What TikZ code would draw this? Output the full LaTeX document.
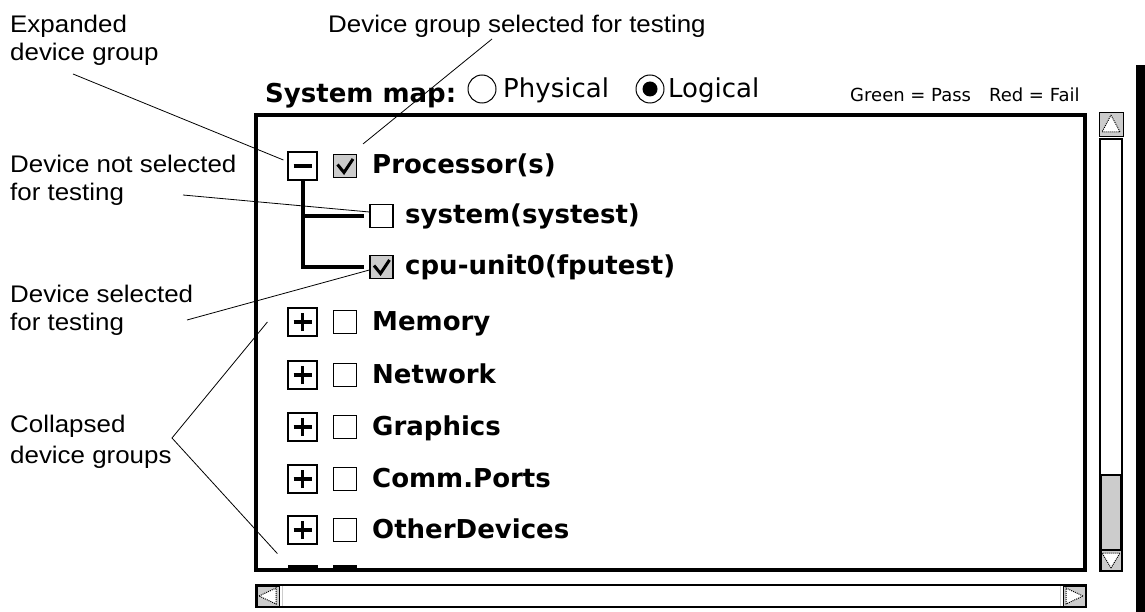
\documentclass[tikz,border=0pt]{standalone}
\usepackage{fontspec}
\usepackage{tikz}
\newfontfamily\notefont[FakeStretch=1.08]{Liberation Sans}
\newfontfamily\panelfont{DejaVu Sans}

\definecolor{panelgray}{gray}{0.8}

\tikzset{
  note/.style={font=\notefont\fontsize{24}{28}\selectfont, align=left, inner sep=0pt, anchor=north west},
  entry/.style={font=\panelfont\bfseries\fontsize{26}{30}\selectfont, inner sep=0pt, anchor=base west},
  plain/.style={font=\panelfont\fontsize{26}{30}\selectfont, inner sep=0pt, anchor=base west},
  expander/.style={draw, line width=1.2pt, minimum width=29pt, minimum height=28pt, inner sep=0pt},
  tickbox/.style={draw, line width=1.2pt, minimum size=23pt, inner sep=0pt},
  ticked/.style={tickbox, fill=panelgray},
  radio/.style={circle, draw, line width=1pt, minimum size=28pt, inner sep=0pt},
  leader/.style={line width=0.8pt},
  treeline/.style={line width=4pt},
  sign/.style={line width=3.5pt},
  checkmark/.style={line width=3pt},
  frame/.style={line width=3.2pt},
  arrowbox/.style={fill=panelgray, draw, line width=0.8pt},
  arrowtip/.style={fill=white, draw, densely dotted, line width=1pt}
}

\begin{document}
\begin{tikzpicture}[x=1pt, y=-1pt]
\useasboundingbox (0,0) rectangle (1145,612);
\fill[white] (0,0) rectangle (1145,612);

\fill[black] (1136,65) rectangle (1145,612);

\node[entry] (title) at (265,103) {System map:};
\node[radio] (radphys) at (482,89) {};
\node[plain] (phys) at (503,98) {Physical};
\node[radio] (radlog) at (650,89) {};
\fill (radlog.center) circle (7.5pt);
\node[plain] (logic) at (668,98) {Logical};
\node[plain, font=\panelfont\fontsize{18}{21}\selectfont] (legend) at (850,102) {Green = Pass\hspace{18pt}Red = Fail};

\draw[frame] (256,115) rectangle (1085,570);

\node[expander] (exproc) at (302.5,166) {};
\draw[sign] ([xshift=-9pt]exproc.center) -- ([xshift=9pt]exproc.center);
\node[ticked] (chkproc) at (345,166) {};
\draw[checkmark] ([xshift=-7.5pt,yshift=1.5pt]chkproc.center) -- ([xshift=-1pt,yshift=-6.5pt]chkproc.center) -- ([xshift=8pt,yshift=7pt]chkproc.center);
\node[entry] (proc) at (372,174) {Processor(s)};

\node[tickbox] (chksys) at (381.5,216) {};
\node[entry] (sys) at (405,224) {system(systest)};

\node[ticked] (chkcpu) at (381.5,267) {};
\draw[checkmark] ([xshift=-7.5pt,yshift=1.5pt]chkcpu.center) -- ([xshift=-1pt,yshift=-6.5pt]chkcpu.center) -- ([xshift=8pt,yshift=7pt]chkcpu.center);
\node[entry] (cpu) at (405,275) {cpu-unit0(fputest)};

\draw[treeline] (exproc.south) |- ([xshift=-5pt]chksys.west);
\draw[treeline] (exproc.south) |- ([xshift=-5pt]chkcpu.west);

\node[expander] (exmem) at (302.5,322) {};
\draw[sign] ([xshift=-9pt]exmem.center) -- ([xshift=9pt]exmem.center);
\draw[sign] ([yshift=-9pt]exmem.center) -- ([yshift=9pt]exmem.center);
\node[tickbox] (chkmem) at (345,322) {};
\node[entry] (mem) at (372,330) {Memory};

\node[expander] (exnet) at (302.5,375) {};
\draw[sign] ([xshift=-9pt]exnet.center) -- ([xshift=9pt]exnet.center);
\draw[sign] ([yshift=-9pt]exnet.center) -- ([yshift=9pt]exnet.center);
\node[tickbox] (chknet) at (345,375) {};
\node[entry] (net) at (372,383) {Network};

\node[expander] (exgfx) at (302.5,427) {};
\draw[sign] ([xshift=-9pt]exgfx.center) -- ([xshift=9pt]exgfx.center);
\draw[sign] ([yshift=-9pt]exgfx.center) -- ([yshift=9pt]exgfx.center);
\node[tickbox] (chkgfx) at (345,427) {};
\node[entry] (gfx) at (372,435) {Graphics};

\node[expander] (excomm) at (302.5,479) {};
\draw[sign] ([xshift=-9pt]excomm.center) -- ([xshift=9pt]excomm.center);
\draw[sign] ([yshift=-9pt]excomm.center) -- ([yshift=9pt]excomm.center);
\node[tickbox] (chkcomm) at (345,479) {};
\node[entry] (comm) at (372,487) {Comm.Ports};

\node[expander] (exother) at (302.5,530) {};
\draw[sign] ([xshift=-9pt]exother.center) -- ([xshift=9pt]exother.center);
\draw[sign] ([yshift=-9pt]exother.center) -- ([yshift=9pt]exother.center);
\node[tickbox] (chkother) at (345,530) {};
\node[entry] (other) at (372,538) {OtherDevices};

\fill (288,565) rectangle (318,569);
\fill (333,565) rectangle (357,569);

\draw[arrowbox] (1099,112) rectangle (1123,136);
\draw[arrowtip] (1111,115) -- (1120,132) -- (1102,132) -- cycle;
\draw[frame, line width=2.5pt, fill=white] (1100,139) rectangle (1122,571);
\draw[line width=1.5pt, fill=panelgray] (1101,475) rectangle (1121,550);
\draw[arrowbox] (1101,550) rectangle (1121,570);
\draw[arrowtip] (1111,568) -- (1120,553) -- (1102,553) -- cycle;

\draw[frame, line width=2.5pt, fill=white] (256,585) rectangle (1086,607);
\draw[arrowbox] (257,586) rectangle (279,606);
\draw[line width=1pt, panelgray] (282,586) -- (282,606);
\draw[arrowtip] (259,596) -- (276,588) -- (276,604) -- cycle;
\draw[arrowbox] (1063,586) rectangle (1085,606);
\draw[line width=1pt, panelgray] (1060,586) -- (1060,606);
\draw[arrowtip] (1083,596) -- (1066,588) -- (1066,604) -- cycle;

\node[note] (expanded) at (10,15) {Expanded\\device group};
\node[note] (groupsel) at (328,15) {Device group selected for testing};
\node[note] (notsel) at (10,155) {Device not selected\\for testing};
\node[note] (sel) at (10,285) {Device selected\\for testing};
\node[note] (collapsed) at (10,415) {Collapsed\\[3pt]device groups};

\coordinate (expandedtail) at (73,74);
\coordinate (groupseltail) at (492,39);
\coordinate (notseltail) at (183,195);
\coordinate (seltail) at (187,320);
\coordinate (collapsedtail) at (172,438);

\draw[leader] (expandedtail) -- ([xshift=-4pt,yshift=6pt]exproc.west);
\draw[leader] (groupseltail) -- ([xshift=6pt,yshift=10pt]chkproc.north east);
\draw[leader] (notseltail) -- ([yshift=4pt]chksys.west);
\draw[leader] (seltail) -- ([yshift=-3pt]chkcpu.west);
\draw[leader] ([xshift=-20pt]exmem.west) -- (collapsedtail) -- ([xshift=-10pt,yshift=-9pt]exother.south west);

\end{tikzpicture}
\end{document}
